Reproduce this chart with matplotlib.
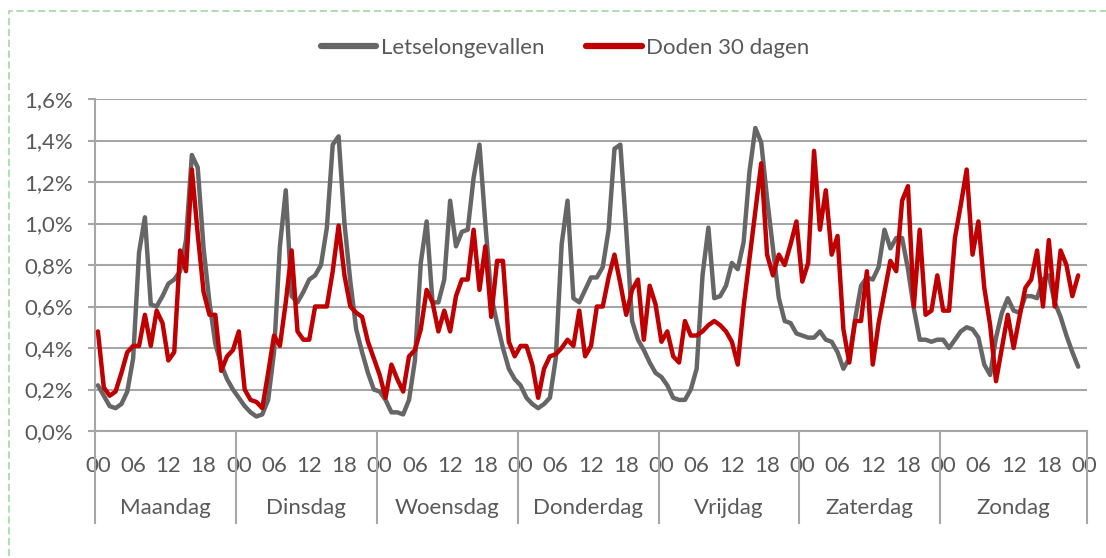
import numpy as np
import matplotlib
matplotlib.use("Agg")
import matplotlib.pyplot as plt
import matplotlib.transforms as mtransforms
from matplotlib.patches import Rectangle
from matplotlib.lines import Line2D
from matplotlib.ticker import FuncFormatter

plt.rcParams['font.family'] = ['Lato', 'DejaVu Sans']

# aandeel per uur van de week (%), ma 00 t/m zo 23
days = ['Maandag', 'Dinsdag', 'Woensdag', 'Donderdag', 'Vrijdag', 'Zaterdag', 'Zondag']
hour_labels = ['00', '06', '12', '18']

letsel = [
    0.22, 0.17, 0.12, 0.11, 0.13, 0.19, 0.35, 0.86, 1.03, 0.61, 0.60, 0.65, 0.71, 0.73, 0.77, 0.92, 1.33, 1.27, 0.88, 0.62, 0.42, 0.32, 0.25, 0.20,
    0.16, 0.12, 0.09, 0.07, 0.08, 0.15, 0.38, 0.89, 1.16, 0.65, 0.62, 0.67, 0.73, 0.75, 0.80, 0.98, 1.38, 1.42, 1.00, 0.72, 0.49, 0.38, 0.28, 0.20,
    0.19, 0.15, 0.09, 0.09, 0.08, 0.15, 0.34, 0.81, 1.01, 0.62, 0.62, 0.73, 1.11, 0.89, 0.96, 0.97, 1.22, 1.38, 1.00, 0.65, 0.52, 0.40, 0.30, 0.25,
    0.22, 0.16, 0.13, 0.11, 0.13, 0.16, 0.35, 0.90, 1.11, 0.64, 0.62, 0.68, 0.74, 0.74, 0.79, 0.97, 1.36, 1.38, 0.97, 0.53, 0.44, 0.39, 0.33, 0.28,
    0.26, 0.22, 0.16, 0.15, 0.15, 0.20, 0.30, 0.75, 0.98, 0.64, 0.65, 0.70, 0.81, 0.78, 0.91, 1.25, 1.46, 1.39, 1.12, 0.88, 0.64, 0.53, 0.52, 0.47,
    0.46, 0.45, 0.45, 0.48, 0.44, 0.43, 0.38, 0.30, 0.35, 0.54, 0.70, 0.74, 0.73, 0.79, 0.97, 0.88, 0.93, 0.93, 0.78, 0.59, 0.44, 0.44, 0.43, 0.44,
    0.44, 0.40, 0.44, 0.48, 0.50, 0.49, 0.45, 0.32, 0.27, 0.45, 0.57, 0.64, 0.58, 0.57, 0.65, 0.65, 0.64, 0.73, 0.75, 0.62, 0.55, 0.46, 0.38, 0.31,
]

doden = [
    0.48, 0.21, 0.17, 0.19, 0.28, 0.38, 0.41, 0.41, 0.56, 0.41, 0.58, 0.52, 0.34, 0.38, 0.87, 0.77, 1.26, 0.95, 0.67, 0.56, 0.56, 0.29, 0.36, 0.39,
    0.48, 0.20, 0.15, 0.14, 0.11, 0.28, 0.46, 0.41, 0.62, 0.87, 0.48, 0.44, 0.44, 0.60, 0.60, 0.60, 0.77, 0.99, 0.75, 0.60, 0.57, 0.55, 0.43, 0.35,
    0.27, 0.16, 0.32, 0.25, 0.19, 0.36, 0.39, 0.49, 0.68, 0.62, 0.48, 0.58, 0.48, 0.65, 0.73, 0.73, 0.97, 0.68, 0.89, 0.55, 0.82, 0.82, 0.43, 0.36,
    0.41, 0.41, 0.32, 0.16, 0.30, 0.36, 0.37, 0.40, 0.44, 0.41, 0.58, 0.36, 0.41, 0.60, 0.60, 0.74, 0.85, 0.71, 0.56, 0.68, 0.73, 0.44, 0.70, 0.61,
    0.43, 0.48, 0.36, 0.33, 0.53, 0.46, 0.46, 0.48, 0.51, 0.53, 0.51, 0.48, 0.43, 0.32, 0.60, 0.83, 1.06, 1.29, 0.85, 0.75, 0.85, 0.80, 0.90, 1.01,
    0.72, 0.81, 1.35, 0.97, 1.16, 0.85, 0.94, 0.49, 0.33, 0.53, 0.53, 0.77, 0.32, 0.52, 0.67, 0.82, 0.77, 1.11, 1.18, 0.60, 0.97, 0.56, 0.58, 0.75,
    0.58, 0.58, 0.93, 1.09, 1.26, 0.85, 1.01, 0.69, 0.51, 0.24, 0.40, 0.56, 0.40, 0.55, 0.69, 0.73, 0.87, 0.60, 0.92, 0.60, 0.87, 0.80, 0.65, 0.75,
]

text_c = '#595959'
grid_c = '#A6A6A6'
fs = 16

fig = plt.figure(figsize=(11.06, 5.58), dpi=100)
ax = fig.add_axes([95 / 1106, 1 - 431 / 558, (1087 - 95) / 1106, (431 - 99) / 558])

x = np.arange(len(letsel))
ax.plot(x, letsel, color='#666666', lw=3.2, solid_joinstyle='round', solid_capstyle='round', zorder=3)
ax.plot(x, doden, color='#C00000', lw=3.2, solid_joinstyle='round', solid_capstyle='round', zorder=4)

ax.set_xlim(-0.5, 168.5)
ax.set_ylim(0, 1.6)
ax.set_yticks(np.arange(0, 1.61, 0.2))
ax.yaxis.set_major_formatter(FuncFormatter(lambda v, p: ('%.1f%%' % v).replace('.', ',')))
ax.yaxis.grid(True, color=grid_c, lw=1.5)
ax.set_axisbelow(True)

for s in ['top', 'right', 'bottom']:
    ax.spines[s].set_visible(False)
ax.spines['left'].set_color(grid_c)
ax.spines['left'].set_linewidth(1.5)

ax.tick_params(axis='y', length=5, width=1.5, color=grid_c, pad=11, labelsize=fs, labelcolor=text_c)

xt = [d * 24 + h for d in range(7) for h in (0, 6, 12, 18)] + [168]
ax.set_xticks(xt)
ax.set_xticklabels(hour_labels * 7 + ['00'])
ax.tick_params(axis='x', length=0, pad=18, labelsize=fs, labelcolor=text_c)

# dagscheidingen onder de as
trans = mtransforms.blended_transform_factory(ax.transData, ax.transAxes)
for b in [d * 24 - 0.5 for d in range(7)] + [168.5]:
    ax.plot([b, b], [0, -0.277], transform=trans, color=grid_c, lw=1.5, clip_on=False)
ax.plot([-0.5, 168.5], [0, 0], transform=trans, color=grid_c, lw=1.5, clip_on=False)

centers = [d * 24 + 11.5 for d in range(6)] + [156]
for c, day in zip(centers, days):
    ax.text(c, -0.232, day, transform=trans, ha='center', va='center', fontsize=fs, color=text_c)

handles = [Line2D([], [], color='#666666', lw=4.5, solid_capstyle='round'),
           Line2D([], [], color='#C00000', lw=4.5, solid_capstyle='round')]
fig.legend(handles, ['Letselongevallen', 'Doden 30 dagen'], loc='center',
           bbox_to_anchor=(565 / 1106, 1 - 48 / 558), ncol=2, frameon=False,
           handlelength=2.5, handletextpad=0.2, columnspacing=1.9,
           fontsize=fs, labelcolor=text_c)

fig.patches.append(Rectangle((9 / 1106, -0.1), 1.2, 1 - 11 / 558 + 0.1, transform=fig.transFigure,
                             fill=False, ec='#A9DCA9', lw=1.3, ls=(0, (4, 2))))

fig.savefig('out.png', dpi=100)
